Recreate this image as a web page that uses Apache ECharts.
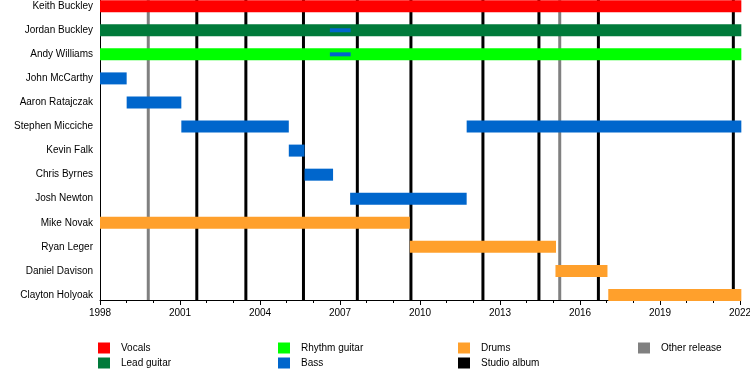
<!DOCTYPE html>
<html><head><meta charset="utf-8">
<script src="https://cdn.jsdelivr.net/npm/echarts@6/dist/echarts.min.js"></script>
<style>html,body{margin:0;padding:0;background:#fff}#c{width:750px;height:380px}</style>
</head><body><div id="c"></div>
<script>
// ---- data ----
const members = ['Keith Buckley','Jordan Buckley','Andy Williams','John McCarthy','Aaron Ratajczak',
  'Stephen Micciche','Kevin Falk','Chris Byrnes','Josh Newton','Mike Novak','Ryan Leger',
  'Daniel Davison','Clayton Holyoak'];
const vocals = [['Keith Buckley', 1998, 2022.05]];
const leadGuitar = [['Jordan Buckley', 1998, 2022.05]];
const rhythmGuitar = [['Andy Williams', 1998, 2022.05]];
const bass = [
  ['John McCarthy', 1998, 1999.0],
  ['Aaron Ratajczak', 1999.0, 2001.05],
  ['Stephen Micciche', 2001.05, 2005.08],
  ['Kevin Falk', 2005.08, 2005.67],
  ['Chris Byrnes', 2005.67, 2006.74],
  ['Josh Newton', 2007.38, 2011.75],
  ['Stephen Micciche', 2011.75, 2022.05]
];
const bassInterim = [
  ['Jordan Buckley', 2006.62, 2007.4],
  ['Andy Williams', 2006.62, 2007.4]
];
const drums = [
  ['Mike Novak', 1998, 2009.62],
  ['Ryan Leger', 2009.62, 2015.1],
  ['Daniel Davison', 2015.08, 2017.03],
  ['Clayton Holyoak', 2017.06, 2022.05]
];
const studioAlbums = [2001.63, 2003.47, 2005.63, 2007.65, 2009.66, 2012.36, 2014.46, 2016.69, 2021.75];
const otherReleases = [1999.81, 2015.24];
const yearMin = 1998, yearMax = 2022, yearStep = 3;

// ---- chart ----
const colors = {
  'Vocals': '#ff0000', 'Lead guitar': '#007a3a', 'Rhythm guitar': '#00ff00',
  'Bass': '#0066cc', 'Drums': '#ffa02c', 'Studio album': '#000000', 'Other release': '#808080'
};
const FONT = 'Liberation Sans, Arial, sans-serif';

function toRows(arr) { return arr.map(r => [members.indexOf(r[0]), r[1], r[2]]); }
function barRender(h) {
  return function (params, api) {
    const yi = api.value(0);
    const s = api.coord([api.value(1), yi]);
    const e = api.coord([api.value(2), yi]);
    return { type: 'rect', shape: { x: s[0], y: s[1] - h / 2, width: e[0] - s[0], height: h },
      style: { fill: api.visual('color') } };
  };
}
function lineRender(params, api) {
  const b = api.coord([api.value(0), 0]);
  const t = api.coord([api.value(0), 1]);
  return { type: 'line', shape: { x1: b[0], y1: b[1], x2: t[0], y2: t[1] },
    style: { stroke: api.visual('color'), lineWidth: 3 } };
}
function barSeries(name, arr, h) {
  return { type: 'custom', name: name, xAxisIndex: 1, yAxisIndex: 1, z: 5,
    itemStyle: { color: colors[name] }, renderItem: barRender(h),
    encode: { x: [1, 2], y: 0 }, data: toRows(arr), clip: false };
}
function lineSeries(name, arr) {
  return { type: 'custom', name: name, xAxisIndex: 0, yAxisIndex: 0, z: 2,
    itemStyle: { color: colors[name] }, renderItem: lineRender,
    encode: { x: 0, y: 1 }, data: arr.map(v => [v, 0]) };
}

const legendPos = [
  ['Vocals', 98, 343], ['Lead guitar', 98, 358],
  ['Rhythm guitar', 278, 343], ['Bass', 278, 358],
  ['Drums', 458, 343], ['Studio album', 458, 358],
  ['Other release', 638, 343]
];

const option = {
  animation: false,
  backgroundColor: '#fff',
  textStyle: { fontFamily: FONT },
  legend: legendPos.map(p => ({
    data: [p[0]], left: p[1], top: p[2] - 0.5, padding: 0, icon: 'rect',
    itemWidth: 12, itemHeight: 11, selectedMode: false,
    textStyle: { fontSize: 10, color: '#000', fontFamily: FONT, padding: [0, 0, 0, 6] }
  })),
  grid: [
    { left: 100, width: 640, top: 0, height: 300, containLabel: false, outerBoundsMode: 'none' },
    { left: 100, width: 640, top: 6.2, height: 288.8, containLabel: false, outerBoundsMode: 'none' }
  ],
  xAxis: [
    { type: 'value', gridIndex: 0, min: yearMin, max: yearMax, interval: yearStep,
      axisLine: { show: true, onZero: false, lineStyle: { color: '#000', width: 1 } },
      axisTick: { show: true, length: 5, lineStyle: { color: '#000' } },
      minorTick: { show: true, splitNumber: 3, length: 3, lineStyle: { color: '#000' } },
      splitLine: { show: false },
      axisLabel: { fontSize: 10, color: '#000', fontFamily: FONT, margin: 8, formatter: v => String(v) } },
    { type: 'value', gridIndex: 1, min: yearMin, max: yearMax, show: false }
  ],
  yAxis: [
    { type: 'value', gridIndex: 0, min: 0, max: 1, axisLabel: { show: false }, axisTick: { show: false },
      splitLine: { show: false },
      axisLine: { show: true, onZero: false, lineStyle: { color: '#000', width: 1 } } },
    { type: 'category', gridIndex: 1, data: members, inverse: true, boundaryGap: false,
      axisLine: { show: false }, axisTick: { show: false }, splitLine: { show: false },
      axisLabel: { fontSize: 10, color: '#000', fontFamily: FONT, margin: 7, interval: 0 } }
  ],
  series: [
    lineSeries('Studio album', studioAlbums),
    lineSeries('Other release', otherReleases),
    barSeries('Vocals', vocals, 12),
    barSeries('Lead guitar', leadGuitar, 12),
    barSeries('Rhythm guitar', rhythmGuitar, 12),
    barSeries('Bass', bass, 12),
    barSeries('Drums', drums, 12),
    Object.assign(barSeries('Bass', bassInterim, 4), { z: 6 })
  ]
};
const chart = echarts.init(document.getElementById('c'));
chart.setOption(option);
</script>
</body></html>
